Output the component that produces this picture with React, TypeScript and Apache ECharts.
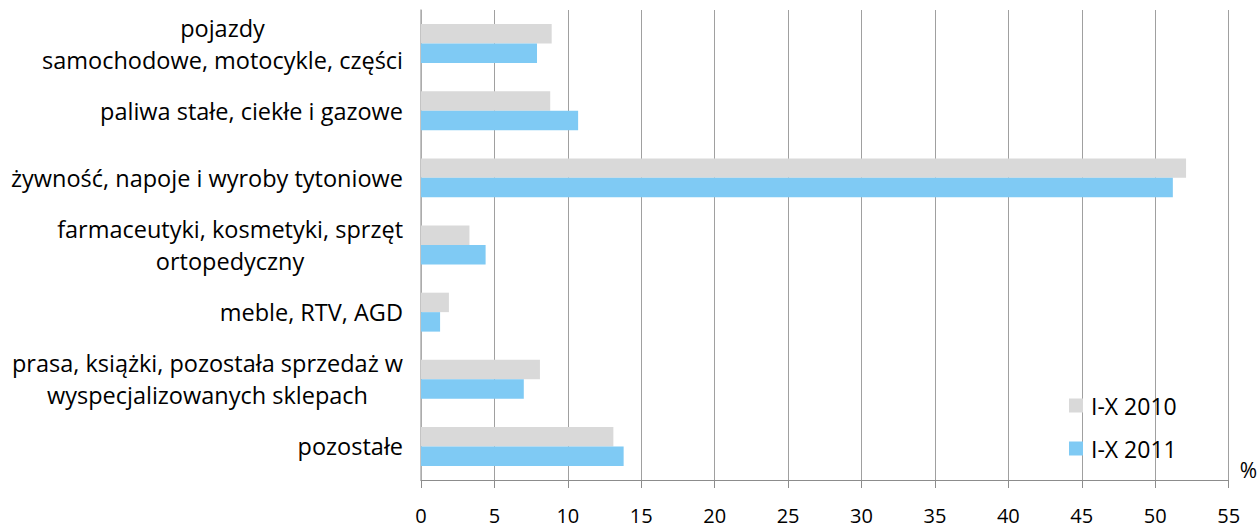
import React, { useEffect, useRef } from "react";
import * as echarts from "echarts";

const categories = [
  "pojazdy\nsamochodowe, motocykle, części",
  "paliwa stałe, ciekłe i gazowe",
  "żywność, napoje i wyroby tytoniowe",
  "farmaceutyki, kosmetyki, sprzęt\nortopedyczny",
  "meble, RTV, AGD",
  "prasa, książki, pozostała sprzedaż w\nwyspecjalizowanych sklepach",
  "pozostałe",
];
const series2010 = [8.9, 8.8, 52.1, 3.3, 1.9, 8.1, 13.1];
const series2011 = [7.9, 10.7, 51.2, 4.4, 1.3, 7.0, 13.8];
const seriesNames = ["I-X 2010", "I-X 2011"];
const colors = ["#d9d9d9", "#7fcaf4"];

const FONT = "'Open Sans', sans-serif";
const FS_LABEL = 23.5;
const FS_TICK = 20;
const FS_LEGEND = 23;

export default function App() {
  const ref = useRef<HTMLDivElement>(null);
  useEffect(() => {
    if (!ref.current) return;
    const chart = echarts.init(ref.current, undefined, { renderer: "svg" });
    chart.setOption({
      animation: false,
      textStyle: { fontFamily: FONT, color: "#000" },
      grid: { left: 421, right: 28, top: 10, bottom: 48, containLabel: false },
      legend: {
        orient: "vertical",
        left: 1064,
        top: 389,
        itemWidth: 14,
        itemHeight: 14,
        itemGap: 20,
        icon: "rect",
        data: seriesNames,
        textStyle: { fontFamily: FONT, fontSize: FS_LEGEND, color: "#000", lineHeight: 22, padding: [0, 0, 0, 3] },
      },
      xAxis: {
        type: "value",
        min: 0,
        max: 55,
        interval: 5,
        name: "%",
        nameLocation: "end",
        nameGap: 11,
        nameTextStyle: { fontFamily: FONT, fontSize: 21, color: "#000", verticalAlign: "bottom", lineHeight: 21 },
        axisLine: { show: true, lineStyle: { color: "#8c8c8c", width: 1 } },
        axisTick: { show: true, length: 8, lineStyle: { color: "#8c8c8c" } },
        axisLabel: { fontFamily: FONT, fontSize: FS_TICK, color: "#000", margin: 25 },
        splitLine: { show: true, lineStyle: { color: "#a0a0a0", width: 1 } },
      },
      yAxis: {
        type: "category",
        inverse: true,
        data: categories,
        axisLine: { show: true, lineStyle: { color: "#b0b0b0", width: 1.5 } },
        axisTick: { show: false },
        axisLabel: {
          margin: 18,
          formatter: (v: string) => v.split("\n").map((l) => `{c|${l}}`).join("\n"),
          rich: {
            c: { fontFamily: FONT, fontSize: FS_LABEL, lineHeight: 32, color: "#000", align: "center" },
          },
        },
      },
      series: [
        {
          name: seriesNames[0],
          type: "bar",
          data: series2010,
          itemStyle: { color: colors[0] },
          barGap: "0%",
          barCategoryGap: "42%",
        },
        {
          name: seriesNames[1],
          type: "bar",
          data: series2011,
          itemStyle: { color: colors[1] },
          barGap: "0%",
          barCategoryGap: "42%",
        },
      ],
    });
    return () => chart.dispose();
  }, []);
  return <div ref={ref} style={{ position: "absolute", left: 0, top: 0, width: 1260, height: 528 }} />;
}
